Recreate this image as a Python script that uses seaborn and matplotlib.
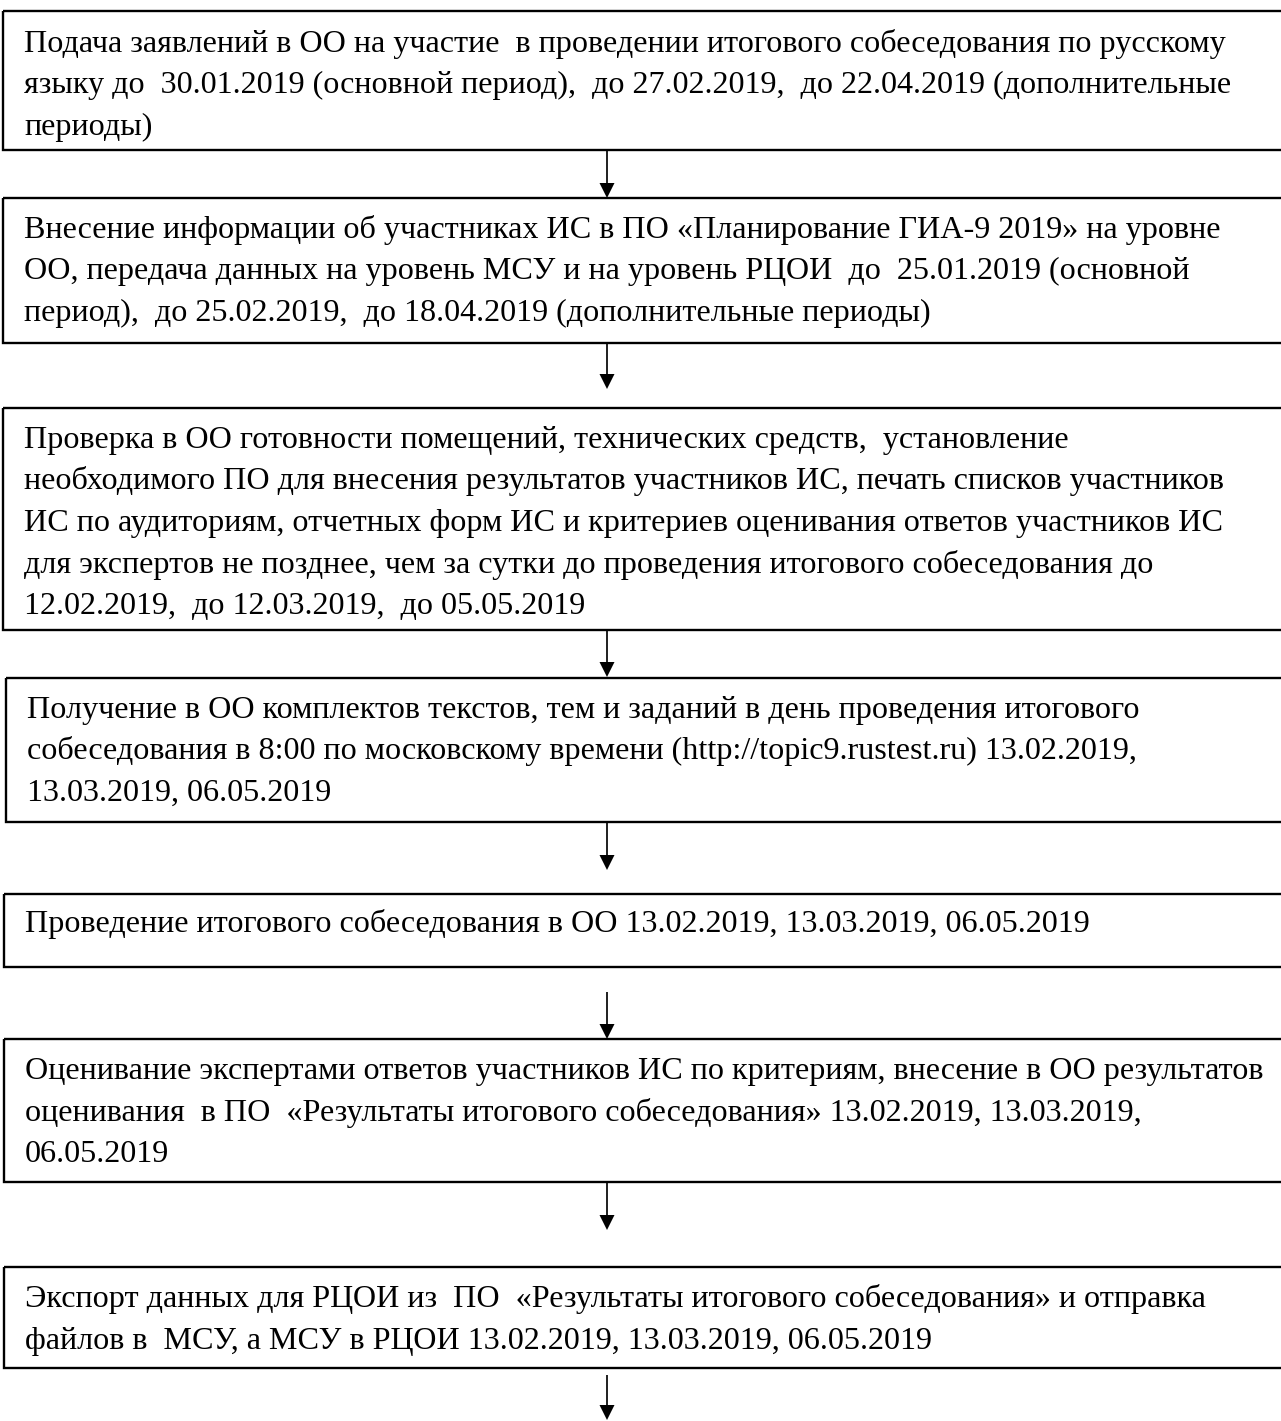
import matplotlib
matplotlib.use("Agg")
import matplotlib.pyplot as plt
from matplotlib.patches import Rectangle, FancyArrow
import seaborn as sns

# ---- content ----
box_lines = [
    ["Подача заявлений в ОО на участие  в проведении итогового собеседования по русскому",
     "языку до  30.01.2019 (основной период),  до 27.02.2019,  до 22.04.2019 (дополнительные",
     "периоды)"],
    ["Внесение информации об участниках ИС в ПО «Планирование ГИА-9 2019» на уровне",
     "ОО, передача данных на уровень МСУ и на уровень РЦОИ  до  25.01.2019 (основной",
     "период),  до 25.02.2019,  до 18.04.2019 (дополнительные периоды)"],
    ["Проверка в ОО готовности помещений, технических средств,  установление",
     "необходимого ПО для внесения результатов участников ИС, печать списков участников",
     "ИС по аудиториям, отчетных форм ИС и критериев оценивания ответов участников ИС",
     "для экспертов не позднее, чем за сутки до проведения итогового собеседования до",
     "12.02.2019,  до 12.03.2019,  до 05.05.2019"],
    ["Получение в ОО комплектов текстов, тем и заданий в день проведения итогового",
     "собеседования в 8:00 по московскому времени (http://topic9.rustest.ru) 13.02.2019,",
     "13.03.2019, 06.05.2019"],
    ["Проведение итогового собеседования в ОО 13.02.2019, 13.03.2019, 06.05.2019"],
    ["Оценивание экспертами ответов участников ИС по критериям, внесение в ОО результатов",
     "оценивания  в ПО  «Результаты итогового собеседования» 13.02.2019, 13.03.2019,",
     "06.05.2019"],
    ["Экспорт данных для РЦОИ из  ПО  «Результаты итогового собеседования» и отправка",
     "файлов в  МСУ, а МСУ в РЦОИ 13.02.2019, 13.03.2019, 06.05.2019"],
]

# ---- layout (pixels) ----
W, H = 1281, 1421
box_left = [3, 3, 3, 6, 4, 4, 4]
box_top = [11, 198, 408, 678, 894, 1039, 1267]
box_bottom = [150, 343, 630, 822, 967, 1182, 1368]
baseline_first = [52, 238, 448, 718, 932, 1079, 1307]
line_step = 41.5
text_pad = 21
arrow_x = 607
arrow_start = [150, 343, 630, 822, 992, 1182, 1375]
arrow_end = [198, 389, 677, 870, 1039, 1230, 1420]

sns.set_theme(style="white")
plt.rcParams["font.family"] = ["Liberation Serif", "DejaVu Serif"]

fig = plt.figure(figsize=(W / 100, H / 100), dpi=100)
ax = fig.add_axes([0, 0, 1, 1])
ax.set_xlim(0, W)
ax.set_ylim(H, 0)
ax.axis("off")

# font size fitted to reference line width
renderer = fig.canvas.get_renderer()
probe = ax.text(0, 0, box_lines[0][0], fontsize=20)
wpx = probe.get_window_extent(renderer).width
probe.remove()
fs = 20 * 1204 / wpx

for i, lines in enumerate(box_lines):
    ax.add_patch(Rectangle((box_left[i], box_top[i]), W + 20 - box_left[i],
                           box_bottom[i] - box_top[i], fill=False,
                           edgecolor="black", linewidth=1.7, clip_on=True))
    for j, ln in enumerate(lines):
        ax.text(box_left[i] + text_pad, baseline_first[i] + j * line_step, ln,
                fontsize=fs, color="black", va="baseline", ha="left")

for s, e in zip(arrow_start, arrow_end):
    ax.add_patch(FancyArrow(arrow_x, s, 0, e - s, width=1.7, head_width=15,
                            head_length=15, length_includes_head=True,
                            color="black", linewidth=0))

fig.savefig("out.png", dpi=100, facecolor="white")
